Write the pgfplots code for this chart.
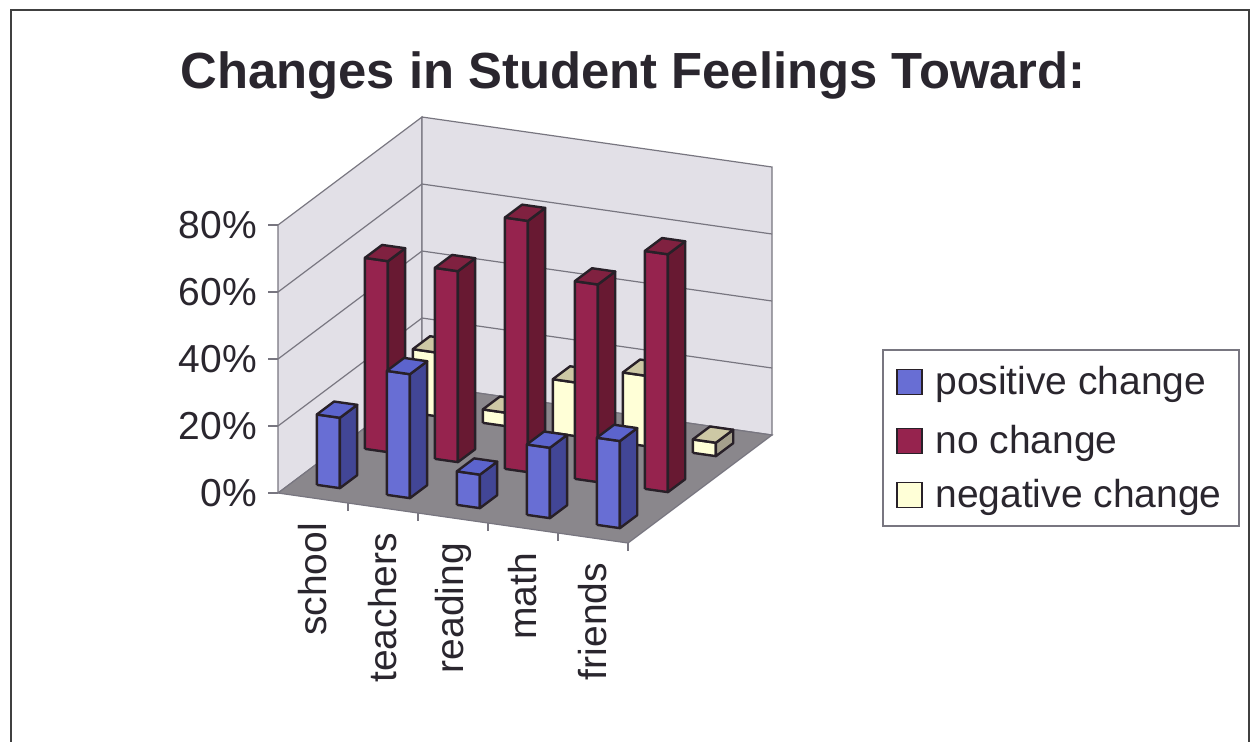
\documentclass[border=0pt]{standalone}
\usepackage{pgfplots}
\pgfplotsset{compat=1.18}
\usepackage{fontspec}
\setmainfont{Liberation Sans}

\definecolor{posF}{RGB}{104,110,212}
\definecolor{posT}{RGB}{92,100,205}
\definecolor{posS}{RGB}{66,70,150}
\definecolor{noF}{RGB}{150,35,78}
\definecolor{noT}{RGB}{128,33,64}
\definecolor{noS}{RGB}{104,25,50}
\definecolor{negF}{RGB}{255,255,215}
\definecolor{negT}{RGB}{205,200,165}
\definecolor{negS}{RGB}{165,160,140}
\definecolor{floorc}{RGB}{138,135,140}
\definecolor{wallc}{RGB}{226,224,231}
\definecolor{wallline}{RGB}{120,118,128}
\definecolor{barline}{RGB}{40,32,40}
\definecolor{txt}{RGB}{42,38,46}

\pgfplotsset{barface/.style={draw=barline, line width=1.2pt, line join=round, mark=none, forget plot}}

% #1 x centre, #2 depth centre, #3 value (%), #4 colour prefix
\newcommand{\tdbar}[4]{%
  \pgfmathsetmacro\xa{#1-0.165}%
  \pgfmathsetmacro\xb{#1+0.165}%
  \pgfmathsetmacro\ya{#2-0.18}%
  \pgfmathsetmacro\yb{#2+0.18}%
  \edef\tmp{%
    \noexpand\addplot3[barface, fill=#4F] coordinates {(\xa,\ya,0) (\xb,\ya,0) (\xb,\ya,#3) (\xa,\ya,#3) (\xa,\ya,0)};
    \noexpand\addplot3[barface, fill=#4S] coordinates {(\xb,\ya,0) (\xb,\yb,0) (\xb,\yb,#3) (\xb,\ya,#3) (\xb,\ya,0)};
    \noexpand\addplot3[barface, fill=#4T] coordinates {(\xa,\ya,#3) (\xb,\ya,#3) (\xb,\yb,#3) (\xa,\yb,#3) (\xa,\ya,#3)};
  }\tmp}

\newcommand{\catlabel}[2]{%
  \node[rotate=90, anchor=east, text=txt, font=\fontsize{19.5}{23}\selectfont] at ([yshift=-9pt]axis cs:#1,0,0) {#2};}

\begin{document}
\begin{tikzpicture}
\fill[white] (0,0) rectangle (627pt,370.5pt);
\draw[line width=1.4pt, color=black!75] (5.5pt,-2pt) -- (5.5pt,365.5pt) -- (624.5pt,365.5pt) -- (624.5pt,-2pt);
\node[font=\fontsize{25.4}{30}\selectfont\bfseries, text=txt, anchor=base] at (316.5pt,326.5pt) {Changes in Student Feelings Toward:};

\begin{axis}[
  at={(139pt,124pt)}, anchor=origin,
  x={(35pt,-5pt)}, y={(24pt,18pt)}, z={(0pt,1.675pt)},
  xmin=0, xmax=5, ymin=0, ymax=3, zmin=0, zmax=80,
  hide axis, clip=false,
]
% walls and floor
\addplot3[fill=wallc, draw=wallline, line width=0.6pt, mark=none, forget plot] coordinates {(0,0,0) (0,3,0) (0,3,80) (0,0,80) (0,0,0)};
\addplot3[fill=wallc, draw=wallline, line width=0.6pt, mark=none, forget plot] coordinates {(0,3,0) (5,3,0) (5,3,80) (0,3,80) (0,3,0)};
\addplot3[fill=floorc, draw=wallline, line width=0.6pt, mark=none, forget plot] coordinates {(0,0,0) (5,0,0) (5,3,0) (0,3,0) (0,0,0)};
% gridlines
\addplot3[draw=wallline, line width=0.6pt, mark=none, forget plot] coordinates {(0,0,20) (0,3,20) (5,3,20)};
\addplot3[draw=wallline, line width=0.6pt, mark=none, forget plot] coordinates {(0,0,40) (0,3,40) (5,3,40)};
\addplot3[draw=wallline, line width=0.6pt, mark=none, forget plot] coordinates {(0,0,60) (0,3,60) (5,3,60)};

% negative change (back row)
\tdbar{0.5}{2.5}{19}{neg}
\tdbar{1.5}{2.5}{4}{neg}
\tdbar{2.5}{2.5}{16}{neg}
\tdbar{3.5}{2.5}{21}{neg}
\tdbar{4.5}{2.5}{4}{neg}
% no change (middle row)
\tdbar{0.5}{1.5}{57}{no}
\tdbar{1.5}{1.5}{57}{no}
\tdbar{2.5}{1.5}{75}{no}
\tdbar{3.5}{1.5}{59}{no}
\tdbar{4.5}{1.5}{71}{no}
% positive change (front row)
\tdbar{0.5}{0.5}{21}{pos}
\tdbar{1.5}{0.5}{37}{pos}
\tdbar{2.5}{0.5}{10}{pos}
\tdbar{3.5}{0.5}{21}{pos}
\tdbar{4.5}{0.5}{26}{pos}

% value axis ticks and labels
\pgfplotsinvokeforeach{0,20,40,60,80}{
  \draw[wallline, line width=0.6pt] (axis cs:0,0,#1) -- ++(-5pt,0pt);
  \node[anchor=east, text=txt, font=\fontsize{19.5}{23}\selectfont] at ([xshift=-7pt]axis cs:0,0,#1) {#1\%};
}
% category ticks
\pgfplotsinvokeforeach{1,2,3,4,5}{
  \draw[wallline, line width=0.6pt] (axis cs:#1,0,0) -- ++(0pt,-4pt);
}
% category labels
\catlabel{0.5}{school}
\catlabel{1.5}{teachers}
\catlabel{2.5}{reading}
\catlabel{3.5}{math}
\catlabel{4.5}{friends}
\end{axis}

% legend
\draw[wallline, line width=0.6pt, fill=white] (441.5pt,107.5pt) rectangle (619.5pt,195.5pt);
\foreach \yc/\col/\lab in {179.5/posF/positive change, 150/noF/no change, 123/negF/negative change} {
  \draw[barline, line width=0.8pt, fill=\col] (448.5pt,\yc pt-6.25pt) rectangle (461pt,\yc pt+6.25pt);
  \node[anchor=base west, inner sep=0pt, text=txt, font=\fontsize{19.5}{23}\selectfont] at (467.5pt,\yc pt-6.25pt) {\lab};
}
\pgfresetboundingbox
\useasboundingbox (0,0) rectangle (627pt,370.5pt);
\end{tikzpicture}
\end{document}
